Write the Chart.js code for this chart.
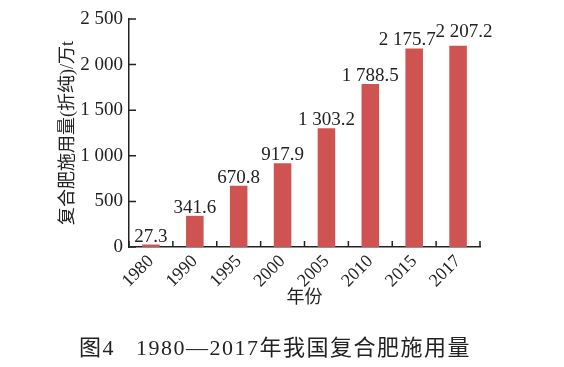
<!DOCTYPE html>
<html>
<head>
<meta charset="utf-8">
<script src="https://cdn.jsdelivr.net/npm/chart.js@4.4.1/dist/chart.umd.min.js"></script>
<style>
  html, body { margin: 0; padding: 0; background: #fff; }
  #wrap { position: relative; width: 564px; height: 367px; }
  #caption {
    position: absolute; left: 0; top: 329px; width: 550px;
    text-align: center; color: #222; white-space: pre;
    font: 22px "Liberation Serif", "Noto Sans CJK SC", serif;
    letter-spacing: 1.5px;
  }
</style>
</head>
<body>
<div id="wrap">
  <canvas id="fertChart" width="564" height="367"></canvas>
  <div id="caption">图4   1980—2017年我国复合肥施用量</div>
</div>
<script>
// dati: anni e consumo di fertilizzante composto (10^4 t)
const anni = ['1980', '1990', '1995', '2000', '2005', '2010', '2015', '2017'];
const valori = [27.3, 341.6, 670.8, 917.9, 1303.2, 1788.5, 2175.7, 2207.2];
const yTicks = [0, 500, 1000, 1500, 2000, 2500];

const serif = '"Liberation Serif", "Noto Sans CJK SC", serif';
const ink = '#222';

// numeri con spazio come separatore delle migliaia
function fmt(v, dec) {
  const s = dec ? v.toFixed(dec) : String(v);
  const parts = s.split('.');
  parts[0] = parts[0].replace(/\B(?=(\d{3})+(?!\d))/g, ' ');
  return parts.join('.');
}

// piccoli spostamenti delle etichette per non sovrapporle (ultime due barre)
const shiftLabel = { 6: [-7, -1], 7: [6, -6] };

// tacche interne sugli assi + etichette sopra le barre
const extras = {
  id: 'extras',
  afterDatasetsDraw(chart) {
    const ctx = chart.ctx;
    const x = chart.scales.x, y = chart.scales.y;
    ctx.save();
    ctx.strokeStyle = ink;
    ctx.lineWidth = 1.5;
    ctx.beginPath();
    yTicks.forEach(t => {
      const py = y.getPixelForValue(t);
      ctx.moveTo(x.left, py);
      ctx.lineTo(x.left + 7, py);
    });
    for (let i = 0; i <= anni.length; i++) {
      const px = x.getPixelForValue(i - 0.5);
      ctx.moveTo(px, y.bottom);
      ctx.lineTo(px, y.bottom - 6);
    }
    ctx.stroke();

    const meta = chart.getDatasetMeta(0);
    ctx.fillStyle = ink;
    ctx.font = '19px ' + serif;
    ctx.textAlign = 'center';
    ctx.textBaseline = 'alphabetic';
    meta.data.forEach((bar, i) => {
      const d = shiftLabel[i] || [0, 0];
      ctx.fillText(fmt(valori[i], 1), bar.x + d[0], bar.y - 3 + d[1]);
    });
    ctx.restore();
  }
};

document.addEventListener('DOMContentLoaded', () => {
  const ctx = document.getElementById('fertChart').getContext('2d');
  new Chart(ctx, {
    type: 'bar',
    data: {
      labels: anni,
      datasets: [{
        data: valori,
        backgroundColor: '#cf5451',
        barPercentage: 0.4,
        categoryPercentage: 1
      }]
    },
    options: {
      responsive: false,
      animation: false,
      layout: { padding: { left: 0, right: 84, top: 19, bottom: 44 } },
      plugins: {
        legend: { display: false },
        tooltip: { enabled: false }
      },
      scales: {
        x: {
          grid: { display: false, drawTicks: false },
          border: { display: true, color: ink, width: 1.5 },
          ticks: {
            color: ink,
            font: { family: serif, size: 18 },
            autoSkip: false,
            minRotation: 45,
            maxRotation: 45,
            padding: 4
          },
          title: {
            display: true,
            text: '年份',
            color: ink,
            font: { family: serif, size: 18 },
            padding: { top: 0, bottom: 14 }
          },
          afterFit: scale => { scale.height = 76; }
        },
        y: {
          min: 0,
          max: 2500,
          grid: { display: false, drawTicks: false },
          border: { display: true, color: ink, width: 1.5 },
          afterBuildTicks: scale => { scale.ticks = yTicks.map(v => ({ value: v })); },
          ticks: {
            color: ink,
            font: { family: serif, size: 19 },
            padding: 6,
            callback: v => fmt(v)
          },
          title: {
            display: true,
            text: '复合肥施用量(折纯)/万t',
            color: ink,
            font: { family: serif, size: 18 },
            padding: { top: 57, bottom: 0 }
          },
          afterFit: scale => { scale.width = 129; }
        }
      }
    },
    plugins: [extras]
  });
});
</script>
</body>
</html>
